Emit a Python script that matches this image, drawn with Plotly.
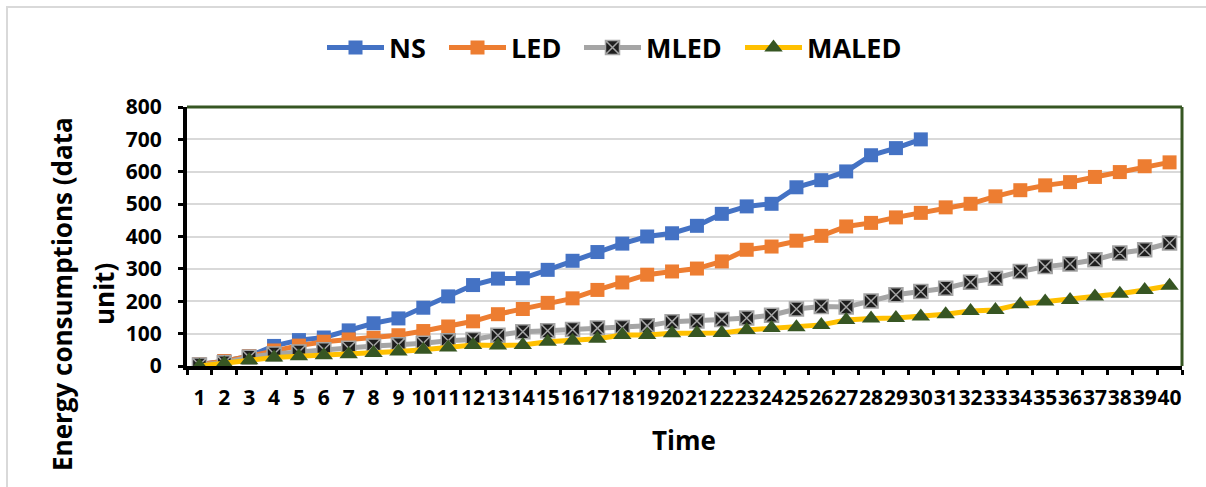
import plotly.graph_objects as go

# Time steps and energy consumption per scheme
time_steps = [str(t) for t in range(1, 41)]

ns = [5, 15, 30, 62, 80, 88, 110, 132, 147, 180, 215, 250, 270, 271, 297, 325,
      352, 378, 400, 410, 433, 470, 493, 501, 552, 574, 601, 651, 673, 700]
led = [5, 15, 30, 48, 63, 75, 82, 87, 95, 108, 122, 138, 160, 176, 195, 209,
       235, 258, 282, 292, 301, 323, 359, 369, 387, 402, 431, 442, 459, 473,
       490, 501, 524, 543, 558, 568, 584, 599, 617, 629]
mled = [3, 10, 27, 37, 43, 50, 55, 62, 66, 70, 78, 82, 95, 106, 109, 113,
        117, 119, 124, 137, 139, 144, 148, 157, 176, 184, 182, 201, 220, 230,
        240, 259, 271, 292, 307, 315, 328, 349, 359, 380]
maled = [0, 8, 18, 26, 30, 33, 36, 40, 45, 50, 57, 65, 63, 65, 75, 78,
         84, 96, 96, 101, 102, 102, 111, 117, 120, 127, 142, 147, 148, 153,
         160, 170, 173, 191, 199, 204, 215, 223, 235, 248]

y_ticks = [0, 100, 200, 300, 400, 500, 600, 700, 800]

FONT = "Open Sans"
W, H = 1206, 487
ML, MR, MT, MB = 187, 24, 107, 121
PW, PH = W - ML - MR, H - MT - MB


def px_x(px):
    return (px - ML) / PW


def px_y(py):
    return (H - MB - py) / PH


series = [
    ("NS", ns, "#4472C4", dict(symbol="square", size=14, color="#4472C4")),
    ("LED", led, "#ED7D31", dict(symbol="square", size=14, color="#ED7D31")),
    ("MLED", mled, "#A5A5A5", dict(symbol="square-x", size=14, color="#1E1E1E",
                                   line=dict(color="#A5A5A5", width=1.5))),
    ("MALED", maled, "#FFC000", dict(symbol="triangle-up", size=16, color="#375623")),
]
legend_left_px = [322, 444, 579, 740]

fig = go.Figure()
legend_layouts = {}
for i, (name, vals, color, marker) in enumerate(series):
    key = "legend" if i == 0 else f"legend{i + 1}"
    fig.add_trace(go.Scatter(
        x=time_steps[:len(vals)], y=vals, name=name, mode="lines+markers",
        line=dict(color=color, width=5), marker=marker, legend=key,
    ))
    legend_layouts[key] = dict(
        orientation="h", x=px_x(legend_left_px[i]), xanchor="left",
        y=px_y(48), yanchor="middle", bgcolor="rgba(0,0,0,0)",
        font=dict(family=FONT, size=27, color="black", weight="bold"),
        itemwidth=57,
    )

# Outer frame of the chart and the green top/right edges of the plot area
shapes = [
    dict(type="rect", xref="paper", yref="paper",
         x0=px_x(7), x1=px_x(1230), y0=px_y(540), y1=px_y(7),
         line=dict(color="#D9D9D9", width=2), layer="below"),
    dict(type="line", xref="paper", yref="paper", x0=0, x1=1, y0=1, y1=1,
         line=dict(color="#375623", width=3)),
    dict(type="line", xref="paper", yref="paper", x0=1, x1=1, y0=0, y1=1,
         line=dict(color="#375623", width=3)),
]

title_font = dict(family=FONT, size=26, color="black", weight="bold")
annotations = [
    dict(text="Energy consumptions (data", textangle=-90, xref="paper", yref="paper",
         x=px_x(62), y=px_y(294), xanchor="center", yanchor="middle",
         showarrow=False, font=title_font),
    dict(text="unit)", textangle=-90, xref="paper", yref="paper",
         x=px_x(104), y=px_y(294), xanchor="center", yanchor="middle",
         showarrow=False, font=title_font),
    dict(text="Time", xref="paper", yref="paper",
         x=px_x(684), y=px_y(440), xanchor="center", yanchor="middle",
         showarrow=False, font=title_font),
]

fig.update_layout(
    width=W, height=H,
    margin=dict(l=ML, r=MR, t=MT, b=MB),
    paper_bgcolor="white", plot_bgcolor="white",
    font=dict(family=FONT, color="black", size=16),
    showlegend=True,
    shapes=shapes,
    annotations=annotations,
    xaxis=dict(
        type="category", range=[-0.5, 39.5], dtick=1,
        tickson="boundaries", ticks="outside", ticklen=5, tickwidth=3, tickcolor="black",
        showline=True, linecolor="black", linewidth=4,
        showgrid=False, zeroline=False, tickangle=0,
        tickfont=dict(family=FONT, size=21, color="black", weight="bold"),
        ticklabelstandoff=10,
    ),
    yaxis=dict(
        range=[0, 800], tickvals=y_ticks,
        ticks="outside", ticklen=5, tickwidth=3, tickcolor="black",
        showline=True, linecolor="black", linewidth=4,
        showgrid=True, gridcolor="#D9D9D9", gridwidth=2, zeroline=False,
        tickfont=dict(family=FONT, size=21, color="black", weight="bold"),
        ticklabelstandoff=12,
    ),
    **legend_layouts,
)

fig.write_html("out.html")
